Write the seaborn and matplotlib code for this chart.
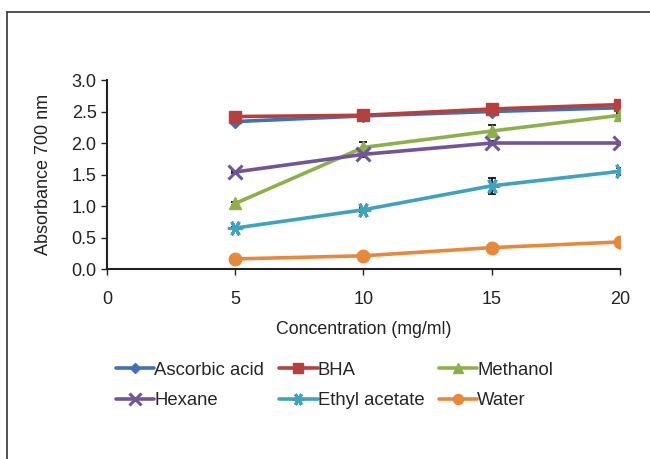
import matplotlib
matplotlib.use("Agg")
import matplotlib.pyplot as plt
from matplotlib.lines import Line2D
import seaborn as sns
import pandas as pd

concentration = [5, 10, 15, 20]
series_names = ["Ascorbic acid", "BHA", "Methanol", "Hexane", "Ethyl acetate", "Water"]
ascorbic_acid = [2.34, 2.43, 2.50, 2.56]
bha = [2.42, 2.44, 2.54, 2.61]
methanol = [1.04, 1.93, 2.19, 2.44]
hexane = [1.54, 1.82, 2.00, 2.00]
ethyl_acetate = [0.65, 0.94, 1.32, 1.55]
water = [0.16, 0.21, 0.34, 0.43]

ascorbic_err = [0.03, 0.02, 0.03, 0.02]
bha_err = [0.02, 0.02, 0.02, 0.02]
methanol_err = [0.03, 0.08, 0.10, 0.03]
hexane_err = [0.02, 0.04, 0.03, 0.02]
ethyl_err = [0.02, 0.03, 0.13, 0.05]
water_err = [0.01, 0.01, 0.01, 0.01]

x_ticks = [0, 5, 10, 15, 20]
y_ticks = [0.0, 0.5, 1.0, 1.5, 2.0, 2.5, 3.0]

values = [ascorbic_acid, bha, methanol, hexane, ethyl_acetate, water]
errors = [ascorbic_err, bha_err, methanol_err, hexane_err, ethyl_err, water_err]
colors = ["#3F72B5", "#B6403D", "#8DB04B", "#70559A", "#3FA2BE", "#E8883A"]
markers = ["D", "s", "^", "x", (6, 2, 90), "o"]
msizes = [6, 9, 9, 10, 11, 9]

rows = []
for name, vals in zip(series_names, values):
    for c, v in zip(concentration, vals):
        rows.append({"Concentration": c, "Absorbance": v, "Series": name})
df = pd.DataFrame(rows)

sns.set_style("ticks")
plt.rcParams["font.family"] = ["Liberation Sans", "DejaVu Sans"]

fig = plt.figure(figsize=(6.5, 4.59), dpi=100)
ax = fig.add_axes([0.1646, 0.4139, 0.7892, 0.4118])


def mew(m):
    return 2.2 if m in ("x", (6, 2, 90)) else 1


for i, name in enumerate(series_names):
    sub = df[df["Series"] == name]
    ax.errorbar(sub["Concentration"], sub["Absorbance"], yerr=errors[i], fmt="none",
                ecolor="black", elinewidth=1.2, capsize=3, capthick=1.2, zorder=2)
    sns.lineplot(data=sub, x="Concentration", y="Absorbance", ax=ax, color=colors[i],
                 marker=markers[i], markersize=msizes[i], markeredgecolor=colors[i],
                 markeredgewidth=mew(markers[i]),
                 linewidth=2.6, label=name, zorder=3 + i * 0.1, legend=False)

ax.set_xlim(0, 20)
ax.set_ylim(0, 3.0)
ax.set_xticks(x_ticks)
ax.set_yticks(y_ticks)
ax.set_yticklabels([f"{v:.1f}" for v in y_ticks])
ax.set_xlabel("Concentration (mg/ml)", fontsize=12.8, color="#222222", labelpad=9)
ax.set_ylabel("Absorbance 700 nm", fontsize=13, color="#222222", labelpad=14)
ax.tick_params(axis="both", labelsize=13, colors="#222222", length=4, width=1)
ax.tick_params(axis="x", pad=12)
for s in ["top", "right"]:
    ax.spines[s].set_visible(False)
for s in ["left", "bottom"]:
    ax.spines[s].set_linewidth(1.5)
    ax.spines[s].set_color("#222222")

handles = []
for i, name in enumerate(series_names):
    handles.append(Line2D([0], [0], color=colors[i], marker=markers[i],
                          markersize=msizes[i] * 0.8, markeredgecolor=colors[i],
                          markeredgewidth=mew(markers[i]),
                          linewidth=2.6, label=name))
order = [0, 3, 1, 4, 2, 5]
fig.legend([handles[k] for k in order], [series_names[k] for k in order],
           ncol=3, loc="upper left", bbox_to_anchor=(0.178, 0.212), frameon=False,
           fontsize=13.3, handlelength=2.1, handletextpad=0.0, columnspacing=0.78,
           labelspacing=0.72, borderaxespad=0, borderpad=0)

fig.add_artist(Line2D([7 / 650, 1.0], [1 - 12 / 459, 1 - 12 / 459],
                      color="#333333", linewidth=1.2, transform=fig.transFigure))
fig.add_artist(Line2D([7 / 650, 7 / 650], [0, 1 - 12 / 459],
                      color="#333333", linewidth=1.2, transform=fig.transFigure))

fig.savefig("out.png", dpi=100)
